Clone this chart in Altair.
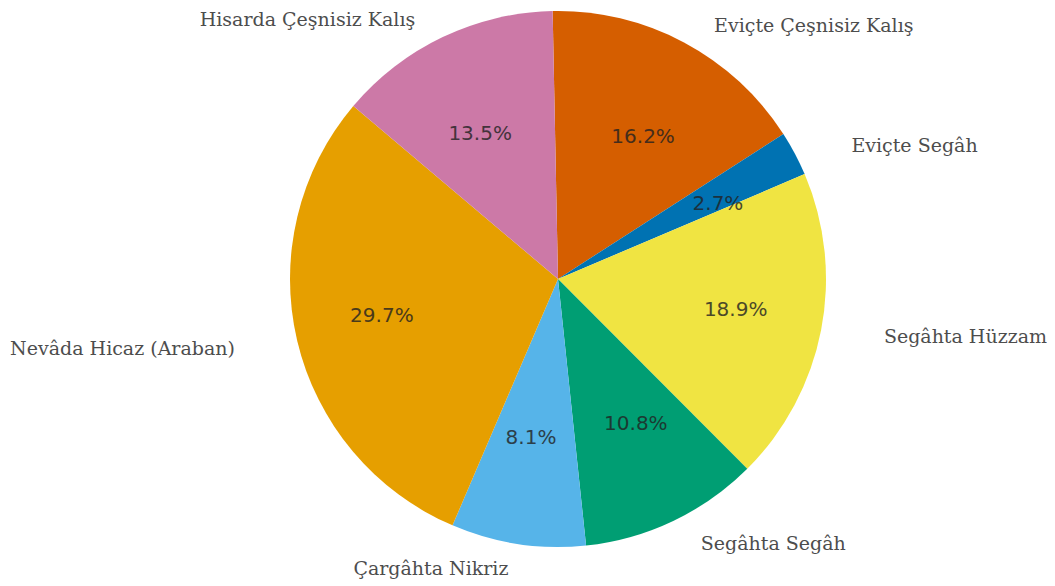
import altair as alt
import pandas as pd

labels = ["Eviçte Çeşnisiz Kalış", "Eviçte Segâh", "Segâhta Hüzzam", "Segâhta Segâh",
          "Çargâhta Nikriz", "Nevâda Hicaz (Araban)", "Hisarda Çeşnisiz Kalış"]
percents = [16.2, 2.7, 18.9, 10.8, 8.1, 29.7, 13.5]
colors = ["#D55E00", "#0072B2", "#F0E442", "#009E73", "#56B4E9", "#E69F00", "#CC79A7"]
sides = ["R", "R", "R", "R", "L", "L", "L"]

df = pd.DataFrame({"label": labels, "pct": percents, "idx": list(range(len(labels))), "side": sides})
df["pct_text"] = [f"{p:.1f}%" for p in percents]

total = sum(percents)
start = -0.02
TAU = 6.283185307
theta_scale = alt.Scale(domain=[0, total], range=[start, start + TAU])

CX, CY, R = 550, 271, 268
LAB_CY = 274
# label placement on a slightly wide oval around the pie
LAB_A, LAB_B = 332, 290
PCT_A, PCT_B = 181, 161

base = alt.Chart(df).encode(order=alt.Order("idx:Q"))

pie = base.mark_arc(outerRadius=R, stroke=None).encode(
    x=alt.value(CX), y=alt.value(CY),
    theta=alt.Theta("pct:Q", stack=True, scale=theta_scale),
    color=alt.Color("label:N", scale=alt.Scale(domain=labels, range=colors), legend=None)
)

placed = base.transform_window(
    cum="sum(pct)", sort=[alt.SortField("idx")], frame=[None, 0]
).transform_calculate(
    mid="datum.cum - datum.pct / 2"
).transform_calculate(
    ang=f"{start} + datum.mid / {total} * {TAU}"
).transform_calculate(
    labt=f"atan2({LAB_A} * sin(datum.ang), {LAB_B} * cos(datum.ang))",
    labr=f"sqrt(pow({LAB_A} * sin(datum.ang), 2) + pow({LAB_B} * cos(datum.ang), 2))",
    pctt=f"atan2({PCT_A} * sin(datum.ang), {PCT_B} * cos(datum.ang))",
    pctr=f"sqrt(pow({PCT_A} * sin(datum.ang), 2) + pow({PCT_B} * cos(datum.ang), 2))",
)

pct = placed.mark_text(font="DejaVu Sans", fontSize=20, baseline="middle",
                       align="center", color="#222222", opacity=0.8).encode(
    x=alt.value(CX), y=alt.value(CY),
    theta=alt.Theta("pctt:Q", scale=None),
    radius=alt.Radius("pctr:Q", scale=None),
    text="pct_text:N")

lab_r = placed.transform_filter(alt.datum.side == "R").mark_text(
    font="DejaVu Serif", fontSize=19, baseline="middle", align="left", color="#4d4d4d").encode(
    x=alt.value(CX), y=alt.value(LAB_CY),
    theta=alt.Theta("labt:Q", scale=None),
    radius=alt.Radius("labr:Q", scale=None),
    text="label:N")

lab_l = placed.transform_filter(alt.datum.side == "L").mark_text(
    font="DejaVu Serif", fontSize=19, baseline="middle", align="right", color="#4d4d4d").encode(
    x=alt.value(CX), y=alt.value(LAB_CY),
    theta=alt.Theta("labt:Q", scale=None),
    radius=alt.Radius("labr:Q", scale=None),
    text="label:N")

chart = alt.layer(pie, pct, lab_r, lab_l).properties(
    width=1039, height=578, autosize="none", padding=0
).configure_view(stroke=None)

chart.save("out.html", embed_options={"renderer": "svg", "actions": False})
